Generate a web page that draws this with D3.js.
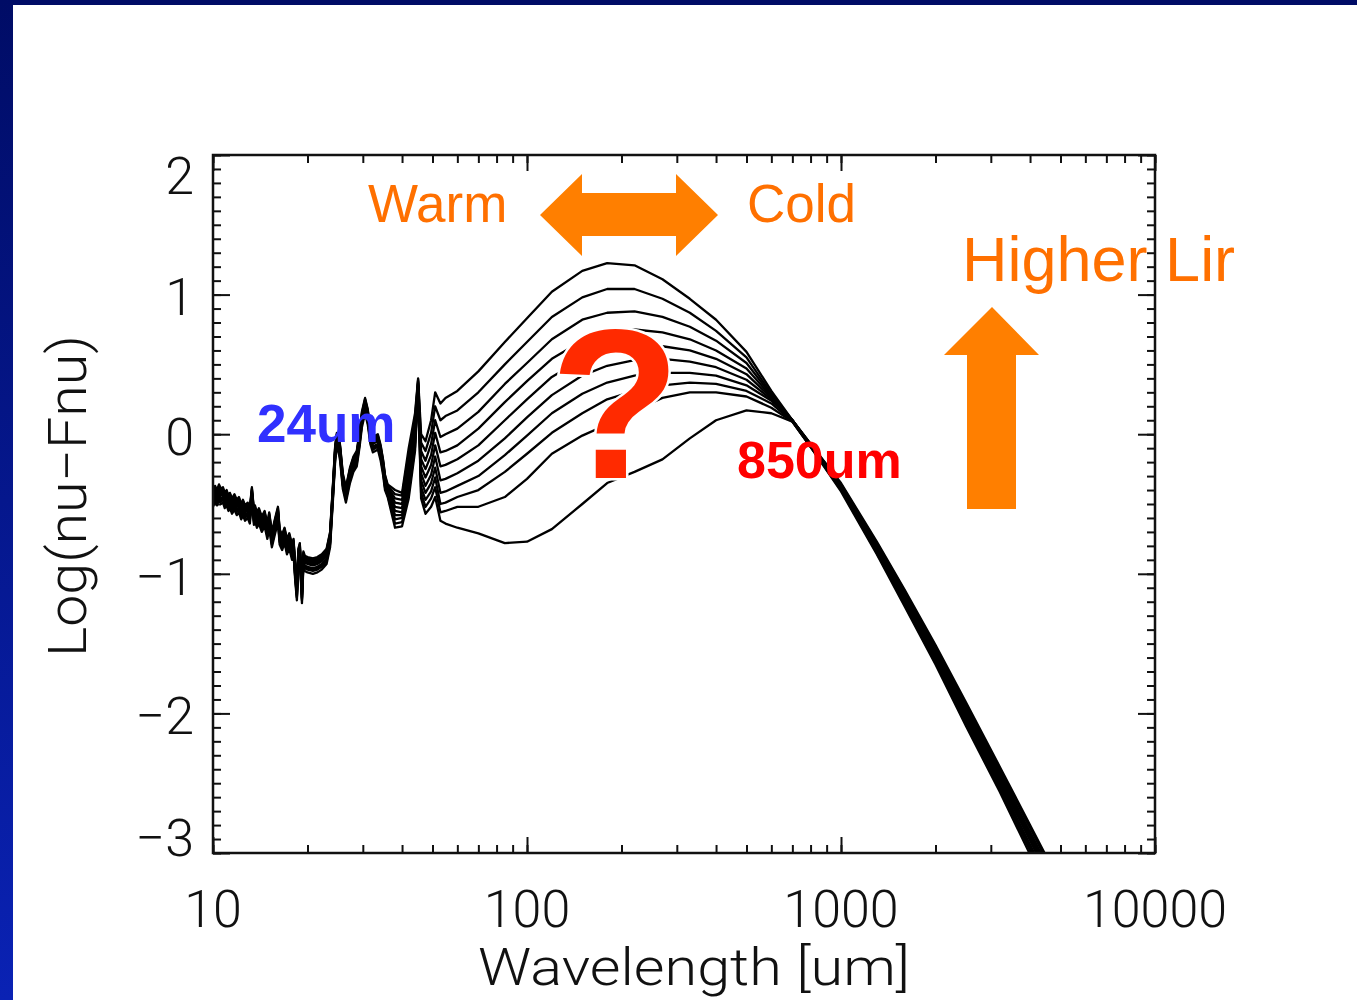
<!DOCTYPE html>
<html>
<head>
<meta charset="utf-8">
<script src="https://cdn.jsdelivr.net/npm/d3@7"></script>
<style>
  html, body { margin: 0; padding: 0; background: #fff; }
  svg { display: block; }
</style>
</head>
<body>
<svg id="chart" width="1357" height="1000"></svg>
<script>
// ---- Spectral energy distributions: log(nu Fnu) vs wavelength (um) ----

// Mid-IR part shared by all templates (PAH / silicate region)
const lamMid = [10.0, 10.15, 10.3, 10.45, 10.6, 10.76, 10.9, 11.05, 11.2, 11.32, 11.5, 11.7, 11.9, 12.1, 12.3, 12.46,
  12.65, 12.9, 13.1, 13.3, 13.5, 13.6, 13.8, 14.0, 14.3, 14.6, 14.9, 15.1, 15.4, 15.7, 16.1, 16.3, 16.6, 16.9, 17.2,
  17.5, 17.85, 18.05, 18.25, 18.5, 18.7, 18.9, 19.05, 19.2, 19.4, 19.6, 20.0, 20.8, 21.5, 22.2, 23.0, 23.6, 24.1,
  24.5, 24.8, 25.1, 25.4, 25.9, 26.5, 27.3, 28.0, 28.7, 29.3, 29.8, 30.5, 31.1, 31.7, 32.3, 32.9, 33.5, 34.2, 34.8, 35.3];
const logMid = [-0.45, -0.41, -0.44, -0.40, -0.43, -0.42, -0.46, -0.44, -0.48, -0.46, -0.50, -0.47, -0.51, -0.49, -0.54, -0.51,
  -0.55, -0.53, -0.57, -0.42, -0.58, -0.55, -0.60, -0.57, -0.63, -0.59, -0.68, -0.60, -0.74, -0.66, -0.56, -0.72, -0.76, -0.71, -0.79,
  -0.75, -0.83, -0.79, -0.96, -1.12, -0.86, -0.82, -0.98, -1.14, -0.88, -0.91, -0.92, -0.93, -0.92, -0.90, -0.86, -0.74, -0.40,
  -0.12, -0.03, -0.05, -0.12, -0.32, -0.42, -0.28, -0.20, -0.16, -0.02, 0.12, 0.22, 0.14, 0.00, -0.06, -0.05, -0.04, -0.12, -0.22, -0.33];
// Level of each template in the mid-IR, relative to the shared spectrum
const midShift = [0.04, 0.03, 0.02, 0.01, 0.00, -0.01, -0.03, -0.04, -0.05, -0.07];

// Far-IR / sub-mm part, one series per template (warm + luminous at top)
const lamFar = [36, 38, 40, 42, 44, 45, 46, 47.5, 49.5, 51, 53, 55, 60, 70, 85, 100, 120, 150, 180, 220, 270, 330,
  400, 500, 600, 700, 800, 1000, 1300, 1600, 2000, 2500, 3200, 4000, 5000];
const sed1 = [-0.36, -0.40, -0.42, -0.10, 0.15, 0.40, 0.00, -0.05, 0.10, 0.30, 0.22, 0.26, 0.31, 0.45, 0.66, 0.83, 1.02, 1.17, 1.225, 1.21, 1.11, 0.97, 0.82, 0.59, 0.31, 0.10, -0.07, -0.35, -0.77, -1.12, -1.51, -1.92, -2.38, -2.80, -3.22];
const sed2 = [-0.37, -0.43, -0.44, -0.14, 0.12, 0.39, -0.06, -0.12, 0.01, 0.20, 0.10, 0.13, 0.17, 0.30, 0.50, 0.66, 0.84, 0.98, 1.04, 1.04, 0.97, 0.87, 0.74, 0.55, 0.29, 0.10, -0.07, -0.36, -0.78, -1.13, -1.53, -1.94, -2.40, -2.82, -3.25];
const sed3 = [-0.38, -0.46, -0.47, -0.18, 0.09, 0.38, -0.12, -0.19, -0.07, 0.10, -0.02, 0.00, 0.04, 0.16, 0.36, 0.51, 0.68, 0.82, 0.87, 0.88, 0.84, 0.77, 0.67, 0.51, 0.28, 0.10, -0.07, -0.36, -0.79, -1.15, -1.54, -1.96, -2.42, -2.85, -3.27];
const sed4 = [-0.39, -0.49, -0.50, -0.22, 0.06, 0.37, -0.18, -0.25, -0.15, 0.01, -0.13, -0.12, -0.08, 0.04, 0.23, 0.38, 0.54, 0.67, 0.73, 0.75, 0.73, 0.68, 0.60, 0.47, 0.27, 0.10, -0.08, -0.37, -0.80, -1.16, -1.56, -1.98, -2.44, -2.87, -3.30];
const sed5 = [-0.40, -0.52, -0.53, -0.26, 0.03, 0.36, -0.23, -0.31, -0.22, -0.08, -0.23, -0.22, -0.18, -0.08, 0.10, 0.25, 0.41, 0.54, 0.61, 0.64, 0.63, 0.60, 0.54, 0.43, 0.26, 0.10, -0.08, -0.37, -0.81, -1.17, -1.57, -1.99, -2.46, -2.89, -3.32];
const sed6 = [-0.41, -0.55, -0.56, -0.30, 0.00, 0.35, -0.28, -0.37, -0.29, -0.16, -0.33, -0.32, -0.28, -0.19, -0.03, 0.12, 0.28, 0.42, 0.49, 0.53, 0.54, 0.52, 0.48, 0.39, 0.25, 0.10, -0.08, -0.38, -0.82, -1.18, -1.59, -2.01, -2.48, -2.91, -3.35];
const sed7 = [-0.42, -0.58, -0.58, -0.34, -0.03, 0.34, -0.33, -0.42, -0.35, -0.24, -0.42, -0.41, -0.37, -0.30, -0.15, -0.01, 0.15, 0.29, 0.37, 0.42, 0.44, 0.44, 0.42, 0.35, 0.24, 0.10, -0.08, -0.39, -0.83, -1.20, -1.60, -2.03, -2.50, -2.94, -3.37];
const sed8 = [-0.43, -0.61, -0.60, -0.38, -0.06, 0.33, -0.38, -0.47, -0.41, -0.31, -0.50, -0.49, -0.45, -0.40, -0.27, -0.14, 0.01, 0.15, 0.25, 0.31, 0.35, 0.37, 0.36, 0.31, 0.22, 0.09, -0.09, -0.39, -0.84, -1.21, -1.62, -2.05, -2.52, -2.96, -3.40];
const sed9 = [-0.44, -0.64, -0.63, -0.42, -0.09, 0.32, -0.42, -0.52, -0.46, -0.38, -0.56, -0.55, -0.52, -0.52, -0.45, -0.32, -0.14, -0.01, 0.07, 0.17, 0.26, 0.30, 0.30, 0.27, 0.19, 0.09, -0.09, -0.40, -0.85, -1.22, -1.63, -2.07, -2.54, -2.98, -3.42];
const sed10 = [-0.45, -0.67, -0.66, -0.46, -0.12, 0.31, -0.46, -0.57, -0.52, -0.45, -0.62, -0.64, -0.67, -0.71, -0.78, -0.77, -0.68, -0.50, -0.35, -0.27, -0.18, -0.03, 0.10, 0.17, 0.15, 0.09, -0.09, -0.41, -0.86, -1.24, -1.65, -2.09, -2.56, -3.01, -3.45];
const farSeds = [sed1, sed2, sed3, sed4, sed5, sed6, sed7, sed8, sed9, sed10];

// Axis ticks
const xTickValues = [10, 100, 1000, 10000];
const xTickLabels = ["10", "100", "1000", "10000"];
const yTickValues = [2, 1, 0, -1, -2, -3];
const yTickLabels = ["2", "1", "0", "\u22121", "\u22122", "\u22123"];
const xTitle = "Wavelength [um]";
const yTitle = "Log(nu\u2212Fnu)";

// ---- Layout ----
const W = 1357, H = 1000;
const plot = { left: 213, right: 1155, top: 155, bottom: 853 };
const svg = d3.select("#chart");
const axisFont = "Roboto, 'Liberation Sans', sans-serif";
const noteFont = "'Liberation Sans', Arial, sans-serif";

// Slide frame (blue edges)
const defs = svg.append("defs");
const grad = defs.append("linearGradient").attr("id", "edge").attr("x1", 0).attr("y1", 0).attr("x2", 0).attr("y2", 1);
grad.append("stop").attr("offset", "0%").attr("stop-color", "#000c66");
grad.append("stop").attr("offset", "100%").attr("stop-color", "#0a22b4");
svg.append("rect").attr("width", W).attr("height", H).attr("fill", "#fff");
svg.append("rect").attr("x", 0).attr("y", 0).attr("width", W).attr("height", 5).attr("fill", "#000c66");
svg.append("rect").attr("x", 0).attr("y", 0).attr("width", 13).attr("height", H).attr("fill", "url(#edge)");

defs.append("clipPath").attr("id", "plotClip").append("rect")
  .attr("x", plot.left).attr("y", plot.top)
  .attr("width", plot.right - plot.left).attr("height", plot.bottom - plot.top);

// Scales
const x = d3.scaleLog().domain([10, 10000]).range([plot.left, plot.right]);
const y = d3.scaleLinear().domain([-3, 2]).range([plot.bottom, plot.top]);

// Minor / major ticks on all four sides, pointing inward
const xMinor = x.ticks();
const yMinor = y.ticks(50);
const tickStyle = g => {
  g.select(".domain").remove();
  g.selectAll("line").attr("stroke", "#111").attr("stroke-width", 2);
};
svg.append("g").attr("transform", `translate(0,${plot.bottom})`)
  .call(d3.axisBottom(x).tickValues(xMinor).tickSize(-8).tickFormat("")).call(tickStyle);
svg.append("g").attr("transform", `translate(0,${plot.bottom})`)
  .call(d3.axisBottom(x).tickValues(xTickValues).tickSize(-16).tickFormat("")).call(tickStyle);
svg.append("g").attr("transform", `translate(0,${plot.top})`)
  .call(d3.axisTop(x).tickValues(xMinor).tickSize(-8).tickFormat("")).call(tickStyle);
svg.append("g").attr("transform", `translate(0,${plot.top})`)
  .call(d3.axisTop(x).tickValues(xTickValues).tickSize(-16).tickFormat("")).call(tickStyle);
svg.append("g").attr("transform", `translate(${plot.left},0)`)
  .call(d3.axisLeft(y).tickValues(yMinor).tickSize(-8).tickFormat("")).call(tickStyle);
svg.append("g").attr("transform", `translate(${plot.left},0)`)
  .call(d3.axisLeft(y).tickValues(yTickValues).tickSize(-17).tickFormat("")).call(tickStyle);
svg.append("g").attr("transform", `translate(${plot.right},0)`)
  .call(d3.axisRight(y).tickValues(yMinor).tickSize(-8).tickFormat("")).call(tickStyle);
svg.append("g").attr("transform", `translate(${plot.right},0)`)
  .call(d3.axisRight(y).tickValues(yTickValues).tickSize(-17).tickFormat("")).call(tickStyle);

// SED curves
const line = d3.line().x(d => x(d[0])).y(d => y(d[1]));
const curves = farSeds.map((sed, i) =>
  lamMid.map((l, j) => [l, logMid[j] + midShift[i]]).concat(lamFar.map((l, j) => [l, sed[j]])));
svg.append("g").attr("clip-path", "url(#plotClip)")
  .selectAll("path").data(curves).join("path")
  .attr("d", line)
  .attr("fill", "none")
  .attr("stroke", "#000")
  .attr("stroke-width", 2.3)
  .attr("stroke-linejoin", "round");

// Frame
svg.append("rect")
  .attr("x", plot.left).attr("y", plot.top)
  .attr("width", plot.right - plot.left).attr("height", plot.bottom - plot.top)
  .attr("fill", "none").attr("stroke", "#111").attr("stroke-width", 2.5);

// Tick labels
svg.append("g").selectAll("text").data(xTickValues).join("text")
  .attr("x", d => x(d)).attr("y", plot.bottom + 74)
  .attr("text-anchor", "middle")
  .attr("font-family", axisFont).attr("font-weight", 300).attr("font-size", 52)
  .attr("fill", "#111")
  .text((d, i) => xTickLabels[i]);
const yLabelNudge = v => (v === 2 ? 20 : v === -3 ? -16 : 2);
svg.append("g").selectAll("text").data(yTickValues).join("text")
  .attr("x", 194).attr("y", d => y(d) + yLabelNudge(d))
  .attr("dy", "0.36em")
  .attr("text-anchor", "end")
  .attr("font-family", axisFont).attr("font-weight", 300).attr("font-size", 52)
  .attr("fill", "#111")
  .text((d, i) => yTickLabels[i]);

// Axis titles
svg.append("text")
  .attr("x", 694).attr("y", 985)
  .attr("text-anchor", "middle")
  .attr("font-family", axisFont).attr("font-weight", 300).attr("font-size", 52)
  .attr("fill", "#111")
  .attr("textLength", 432).attr("lengthAdjust", "spacingAndGlyphs")
  .text(xTitle);
svg.append("text")
  .attr("transform", "translate(86,496) rotate(-90)")
  .attr("text-anchor", "middle")
  .attr("font-family", axisFont).attr("font-weight", 300).attr("font-size", 54)
  .attr("fill", "#111")
  .attr("textLength", 322).attr("lengthAdjust", "spacingAndGlyphs")
  .text(yTitle);

// ---- Annotations ----
const orange = "#ff7f00";
const orangeText = "#ff7000";

// Warm <-> Cold double arrow
svg.append("polygon")
  .attr("points", [[540, 215], [582, 174], [582, 193], [676, 193], [676, 174], [718, 215],
    [676, 256], [676, 236], [582, 236], [582, 256]].map(p => p.join(",")).join(" "))
  .attr("fill", orange);
// Higher Lir up arrow
svg.append("polygon")
  .attr("points", [[992, 307], [1039, 355], [1016, 355], [1016, 509], [967, 509], [967, 355], [944, 355]]
    .map(p => p.join(",")).join(" "))
  .attr("fill", orange);

const note = (txt, px, py, size, color, weight) =>
  svg.append("text").attr("x", px).attr("y", py)
    .attr("font-family", noteFont).attr("font-size", size)
    .attr("font-weight", weight || "normal").attr("fill", color).text(txt);

note("Warm", 368, 222, 53, orangeText);
note("Cold", 747, 222, 53, orangeText);
note("Higher Lir", 962, 281, 63, orangeText);
note("24um", 257, 442, 53, "#3030ff", "bold");
note("850um", 737, 478, 52, "#ff0000", "bold");
note("?", 550, 478, 214, "#ff2a00", "bold")
  .attr("stroke", "#fff").attr("stroke-width", 5).attr("paint-order", "stroke");
</script>
</body>
</html>
